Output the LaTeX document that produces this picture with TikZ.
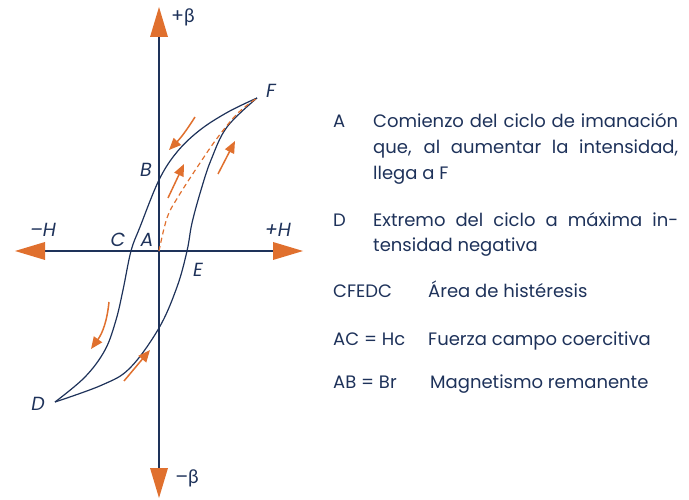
\documentclass[tikz,border=0pt]{standalone}
\usepackage{fontspec}
\setmainfont{Poppins}
\newfontfamily\grk{Lato}
\usetikzlibrary{arrows.meta}
\definecolor{navy}{RGB}{30,50,90}
\definecolor{orng}{RGB}{224,112,46}
\begin{document}
\begin{tikzpicture}[x=1pt,y=-1pt,
  curve/.style={draw=navy,line width=1.2pt},
  dashcurve/.style={draw=orng,line width=1.2pt,dash pattern=on 5pt off 3.5pt},
  oarrow/.style={draw=orng,line width=1.5pt,-{Triangle[length=12pt,width=10pt,color=orng,fill=orng]}},
  axisline/.style={draw=navy,line width=1.4pt,{Triangle[length=30pt,width=18pt,color=orng,fill=orng,line width=0pt]}-{Triangle[length=30pt,width=18pt,color=orng,fill=orng,line width=0pt]}},
  lab/.style={text=navy,font=\itshape\fontsize{19}{19}\selectfont,inner sep=0pt},
  blab/.style={text=navy,font=\fontsize{19}{19}\selectfont,inner sep=0pt},
  leg/.style={text=navy,font=\fontsize{18}{18}\selectfont,anchor=base west,inner sep=0pt},
]
\useasboundingbox (0,0) rectangle (689,500);
% axes
\coordinate (top) at (159,7);
\coordinate (bot) at (159,498);
\coordinate (lft) at (15,251);
\coordinate (rgt) at (303,251);
\draw[axisline] (bot) -- (top);
\draw[axisline] (lft) -- (rgt);
% key points
\coordinate (F) at (257,98);
\coordinate (B) at (159,180);
\coordinate (C) at (131,251);
\coordinate (D) at (55,402);
\coordinate (E) at (187,251);
\coordinate (A) at (159,251);
% hysteresis loop
\draw[curve] plot[smooth,tension=0.6] coordinates {(F) (228,112) (200,130) (177,152) (B) (140,227) (C) (123,290) (116,320) (105,350) (85,377) (D)};
\draw[curve] plot[smooth,tension=0.6] coordinates {(D) (102,385) (130,368) (159,328) (177,287) (E) (192,223) (201,190) (211,160) (227,127) (F)};
\draw[dashcurve] plot[smooth,tension=0.6] coordinates {(A) (167,218) (178,197) (200,163) (218,137) (238,113) (F)};
% orange direction arrows
\coordinate (a1s) at (195,117); \coordinate (a1e) at (169,150);
\coordinate (a2s) at (168,198); \coordinate (a2e) at (184,164);
\coordinate (a3s) at (218,174); \coordinate (a3e) at (235,141);
\coordinate (a4s) at (109,302); \coordinate (a4e) at (91,349);
\coordinate (a5s) at (124,381); \coordinate (a5e) at (150,350);
\draw[oarrow] (a1s) to[bend left=6] (a1e);
\draw[oarrow] (a2s) -- (a2e);
\draw[oarrow] (a3s) -- (a3e);
\draw[oarrow] (a4s) to[bend left=15] (a4e);
\draw[oarrow] (a5s) -- (a5e);
% labels
\node[blab] (pb) at (183,17) {+{\grk β}};
\node[blab] (mb) at (187,478) {–{\grk β}};
\node[lab] (mH) at (43,230) {–H};
\node[lab] (pH) at (278,230) {+H};
\node[lab] (lC) at (118,240) {C};
\node[lab] (lA) at (147,240) {A};
\node[lab] (lB) at (146,170) {B};
\node[lab] (lE) at (198,270) {E};
\node[lab] (lF) at (271,91) {F};
\node[lab] (lD) at (38,404) {D};
% legend
\node[leg] (kA) at (333,128) {A};
\node[leg] (tA1) at (373,128) {\makebox[305pt][s]{Comienzo del ciclo de imanación}};
\node[leg] (tA2) at (373,154) {\makebox[305pt][s]{que, al aumentar la intensidad,}};
\node[leg] (tA3) at (373,180) {llega a F};
\node[leg] (kD) at (333,227) {D};
\node[leg] (tD1) at (373,227) {\makebox[305pt][s]{Extremo del ciclo a máxima in-}};
\node[leg] (tD2) at (373,252) {tensidad negativa};
\node[leg] (k3) at (333,298) {CFEDC};
\node[leg] (t3) at (428,298) {Área de histéresis};
\node[leg] (k4) at (333,345) {AC = Hc};
\node[leg] (t4) at (428,345) {Fuerza campo coercitiva};
\node[leg] (k5) at (333,388) {AB = Br};
\node[leg] (t5) at (430,388) {Magnetismo remanente};
\end{tikzpicture}
\end{document}
